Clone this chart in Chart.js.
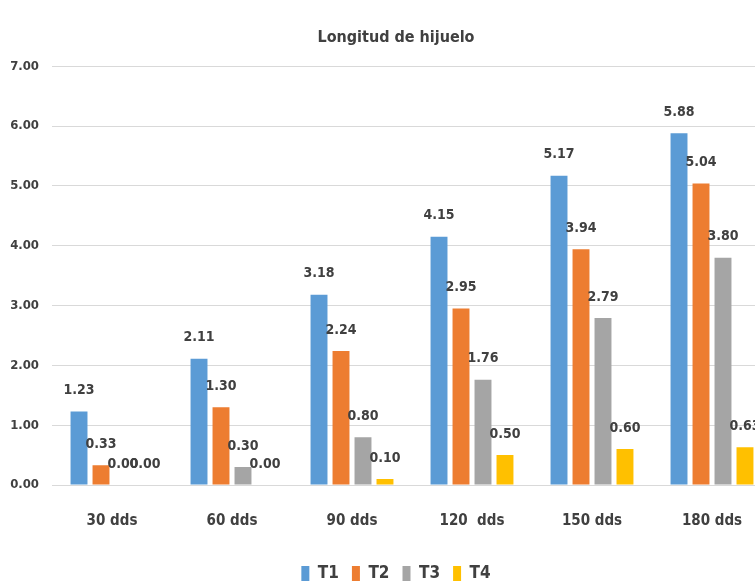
<!DOCTYPE html>
<html>
<head>
<meta charset="utf-8">
<script src="https://cdn.jsdelivr.net/npm/chart.js@4"></script>
<style>
  html, body { margin: 0; padding: 0; background: #ffffff; overflow: hidden; }
  #wrap { width: 795px; height: 586px; }
</style>
</head>
<body>
<div id="wrap"><canvas id="chart" width="795" height="586"></canvas></div>
<script>
// Longitud de hijuelo por tratamiento y días después de la siembra
const categories = ["30 dds", "60 dds", "90 dds", "120  dds", "150 dds", "180 dds"];
const seriesNames = ["T1", "T2", "T3", "T4"];
const t1 = [1.23, 2.11, 3.18, 4.15, 5.17, 5.88];
const t2 = [0.33, 1.30, 2.24, 2.95, 3.94, 5.04];
const t3 = [0.00, 0.30, 0.80, 1.76, 2.79, 3.80];
const t4 = [0.00, 0.00, 0.10, 0.50, 0.60, 0.63];
const yTicks = [0, 1, 2, 3, 4, 5, 6, 7];

const colors = ["#5B9BD5", "#ED7D31", "#A5A5A5", "#FFC000"];
const FONT = '"DejaVu Sans", "Liberation Sans", sans-serif';
const WEIGHT = "condensed bold";
const TEXT = "#404040";

// Value labels drawn above each bar, using the bar positions from the chart
const valueLabels = {
  id: "valueLabels",
  afterDatasetsDraw(chart) {
    const ctx = chart.ctx;
    ctx.save();
    ctx.font = WEIGHT + " 14px " + FONT;
    ctx.fillStyle = TEXT;
    ctx.textAlign = "center";
    ctx.textBaseline = "middle";
    chart.data.datasets.forEach((ds, i) => {
      const meta = chart.getDatasetMeta(i);
      meta.data.forEach((bar, j) => {
        ctx.fillText(ds.data[j].toFixed(2), bar.x, bar.y - 21);
      });
    });
    ctx.restore();
  }
};

const seriesData = [t1, t2, t3, t4];

new Chart(document.getElementById("chart"), {
  type: "bar",
  data: {
    labels: categories,
    datasets: seriesNames.map((name, i) => ({
      label: name,
      data: seriesData[i],
      backgroundColor: colors[i],
      borderWidth: 0,
      categoryPercentage: 0.733,
      barPercentage: 0.77
    }))
  },
  options: {
    responsive: false,
    animation: false,
    layout: { padding: { left: 0, right: 3, top: 0, bottom: -6 } },
    plugins: {
      title: {
        display: true,
        text: "Longitud de hijuelo",
        color: TEXT,
        font: { family: FONT, size: 16, weight: WEIGHT },
        padding: { top: 28, bottom: 19 }
      },
      legend: {
        position: "bottom",
        labels: {
          color: TEXT,
          font: { family: FONT, size: 17, weight: WEIGHT },
          boxWidth: 8,
          boxHeight: 15,
          padding: 13
        }
      },
      tooltip: { enabled: false }
    },
    scales: {
      x: {
        grid: { display: false },
        border: { display: false },
        ticks: {
          color: TEXT,
          font: { family: FONT, size: 15, weight: WEIGHT },
          padding: 19,
          maxRotation: 0
        },
        afterFit(scale) { scale.height = 67; }
      },
      y: {
        min: 0,
        max: 7,
        afterBuildTicks(scale) { scale.ticks = yTicks.map(v => ({ value: v })); },
        afterFit(scale) { scale.width = 52; },
        grid: { color: "#D9D9D9", lineWidth: 1, drawTicks: false },
        border: { display: false },
        ticks: {
          color: TEXT,
          font: { family: FONT, size: 13, weight: WEIGHT },
          padding: 13,
          callback: v => Number(v).toFixed(2)
        }
      },
      // empty margin on the right of the plot area
      yRight: {
        axis: "y",
        position: "right",
        grid: { display: false },
        border: { display: false },
        ticks: { display: false },
        afterFit(scale) { scale.width = 20; }
      }
    }
  },
  plugins: [valueLabels]
});
</script>
</body>
</html>
